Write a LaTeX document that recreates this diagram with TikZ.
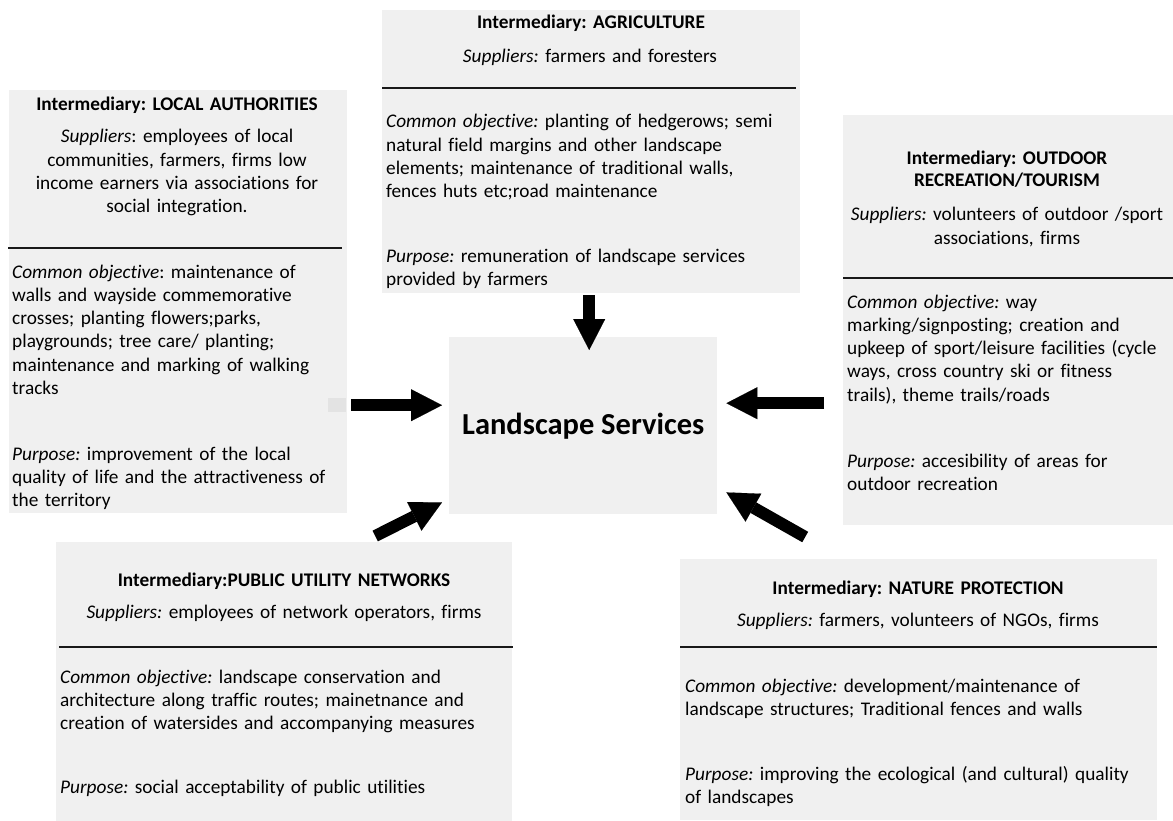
\documentclass[tikz,border=0pt]{standalone}
\usepackage{fontspec}
\setmainfont[Ligatures={NoCommon}]{Carlito}
\usepackage{tikz}
\usetikzlibrary{calc,arrows.meta}
\definecolor{boxgray}{HTML}{F0F0F0}
\definecolor{patchgray}{HTML}{E3E3E3}
\newcommand{\lbl}[1]{\textit{#1}}
\frenchspacing

\tikzset{
  panel/.style={fill=boxgray, inner sep=0pt, anchor=north west},
  body/.style={inner sep=0pt, text width=470pt, font=\fontsize{19.3}{23.3}\selectfont},
  lefttext/.style={body, align=left, anchor=base west},
  midtext/.style={body, align=center, anchor=base},
  headtext/.style={midtext, font=\fontsize{19.3}{22}\selectfont\bfseries},
  divider/.style={line width=1.5pt, black!90},
  bigarrow/.style={line width=12pt, -{Triangle[width=32pt,length=31pt,line width=0.1pt]}}
}

\begin{document}
\begin{tikzpicture}[x=1pt, y=-1pt]
  \useasboundingbox (0,0) rectangle (1173,821);

  % panels
  \node[panel, minimum width=338pt, minimum height=423pt] (la) at (9,90) {};
  \node[panel, minimum width=418pt, minimum height=283pt] (ag) at (382,10) {};
  \node[panel, minimum width=330pt, minimum height=410pt] (or) at (843,115) {};
  \node[panel, minimum width=456pt, minimum height=279pt] (pu) at (56,542) {};
  \node[panel, minimum width=477pt, minimum height=261pt] (np) at (680,559) {};
  \node[panel, minimum width=268pt, minimum height=177pt,
        font=\fontsize{30.5}{34}\selectfont\bfseries] (ls) at (449,337) {Landscape Services};

  \fill[patchgray] (328,398) rectangle (346,412);

  \draw[divider] (8,248) -- (342,248);
  \draw[divider] (382,88) -- (796,88);
  \draw[divider] (843,278) -- (1173,278);
  \draw[divider] (59,647) -- (513,647);
  \draw[divider] (680,647) -- (1157,647);

  % local authorities
  \node[headtext] (la-t) at (177,111) {Intermediary: LOCAL AUTHORITIES};
  \node[midtext] (la-s) at (177,143) {\lbl{Suppliers}: employees of local\\
    communities, farmers, firms low\\income earners via associations for\\social integration.};
  \node[lefttext] (la-c) at (12,278) {\lbl{Common objective}: maintenance of\\
    walls and wayside commemorative\\crosses; planting flowers;parks,\\
    playgrounds; tree care/ planting;\\maintenance and marking of walking\\tracks};
  \node[lefttext] (la-p) at (12,460) {\lbl{Purpose:} improvement of the local\\
    quality of life and the attractiveness of\\the territory};

  % agriculture
  \node[headtext] (ag-t) at (591,29) {Intermediary: AGRICULTURE};
  \node[midtext] (ag-s) at (590,63) {\lbl{Suppliers:} farmers and foresters};
  \node[lefttext] (ag-c) at (386,128) {\lbl{Common objective:} planting of hedgerows; semi\\
    natural field margins and other landscape\\elements; maintenance of traditional walls,\\
    fences huts etc;road maintenance};
  \node[lefttext] (ag-p) at (386,262) {\lbl{Purpose:} remuneration of landscape services\\
    provided by farmers};

  % outdoor recreation
  \node[headtext] (or-t) at (1007,165) {Intermediary: OUTDOOR\\RECREATION/TOURISM};
  \node[midtext] (or-s) at (1007,221) {\lbl{Suppliers:} volunteers of outdoor /sport\\
    associations, firms};
  \node[lefttext] (or-c) at (847,308) {\lbl{Common objective:} way\\
    marking/signposting; creation and\\upkeep of sport/leisure facilities (cycle\\
    ways, cross country ski or fitness\\trails), theme trails/roads};
  \node[lefttext] (or-p) at (847,467) {\lbl{Purpose:} accesibility of areas for\\
    outdoor recreation};

  % public utility networks
  \node[headtext] (pu-t) at (284,586) {Intermediary:PUBLIC UTILITY NETWORKS};
  \node[midtext] (pu-s) at (284,618) {\lbl{Suppliers:} employees of network operators, firms};
  \node[lefttext] (pu-c) at (60,683) {\lbl{Common objective:} landscape conservation and\\
    architecture along traffic routes; mainetnance and\\
    creation of watersides and accompanying measures};
  \node[lefttext] (pu-p) at (60,793) {\lbl{Purpose:} social acceptability of public utilities};

  % nature protection
  \node[headtext] (np-t) at (918,594) {Intermediary: NATURE PROTECTION};
  \node[midtext] (np-s) at (918,626) {\lbl{Suppliers:} farmers, volunteers of NGOs, firms};
  \node[lefttext] (np-c) at (685,692) {\lbl{Common objective:} development/maintenance of\\
    landscape structures; Traditional fences and walls};
  \node[lefttext] (np-p) at (685,780) {\lbl{Purpose:} improving the ecological (and cultural) quality\\
    of landscapes};

  % arrows into the centre
  \draw[bigarrow] ($(ag.south)+(-2,2)$) -- ($(ls.north)+(6,13)$);
  \draw[bigarrow] ($(la.east)+(4,103.5)$) -- ($(ls.west)+(-7,-20.5)$);
  \draw[bigarrow] ($(or.west)+(-19,83)$) -- ($(ls.east)+(9,-22.5)$);
  \draw[bigarrow] ($(pu.north)+(91,-6)$) -- ($(ls.south west)+(-7,-12)$);
  \draw[bigarrow] ($(np.north)+(-113.5,-22)$) -- ($(ls.south east)+(9,-22)$);
\end{tikzpicture}
\end{document}
